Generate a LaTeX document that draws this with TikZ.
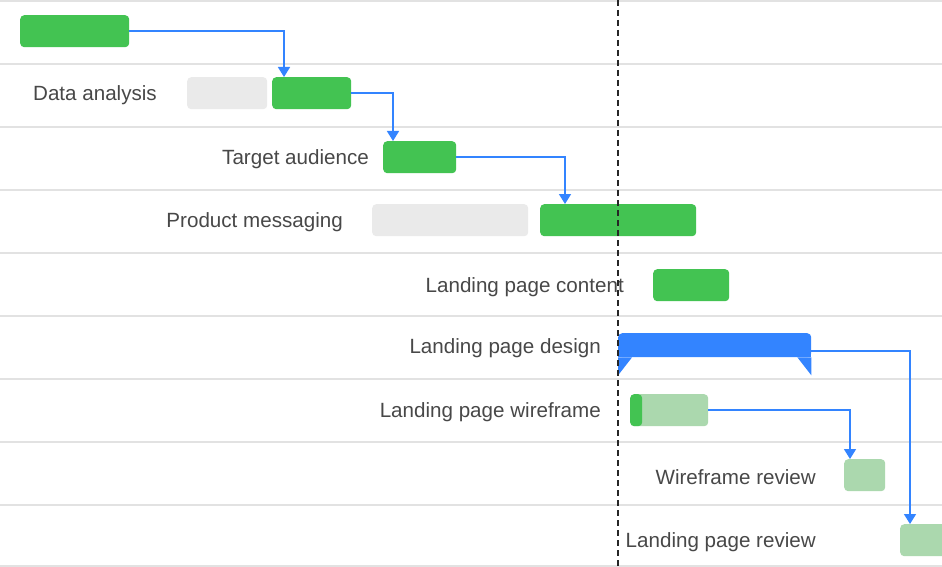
\documentclass[tikz,border=0pt]{standalone}
\usepackage{fontspec}
\setmainfont{Liberation Sans}
\usetikzlibrary{arrows.meta}
\definecolor{barGreen}{RGB}{67,195,82}
\definecolor{barLight}{RGB}{171,216,174}
\definecolor{barGray}{RGB}{234,234,234}
\definecolor{linkBlue}{RGB}{51,132,255}
\definecolor{gridGray}{RGB}{226,226,226}
\definecolor{labelGray}{RGB}{72,72,72}

\begin{document}
\begin{tikzpicture}[x=1pt, y=-1pt,
    bar/.style={rectangle, rounded corners=4pt, inner sep=0, minimum height=32pt, anchor=north west},
    tasklabel/.style={anchor=east, inner sep=0, text=labelGray, font=\fontsize{20.6}{24}\selectfont},
    link/.style={draw=linkBlue, line width=1.5pt, -{Triangle[width=12pt, length=10pt]}},
    gridline/.style={draw=gridGray, line width=1.3pt}]
    \useasboundingbox (0,0) rectangle (942,567);
    \fill[white] (0,0) rectangle (942,567);
    \foreach \y in {1,64,127,190,253,316,379,442,505,566}
        \draw[gridline] (0,\y) -- (942,\y);

    \node[bar, fill=barGreen, minimum width=109pt] (first) at (20,15) {};

    \node[tasklabel] (lblAnalysis) at (157,95) {Data analysis};
    \node[bar, fill=barGray, minimum width=80pt] (analysisBase) at (187,77) {};
    \node[bar, fill=barGreen, minimum width=79pt] (analysis) at (272,77) {};

    \node[tasklabel] (lblAudience) at (369,159) {Target audience};
    \node[bar, fill=barGreen, minimum width=73pt] (audience) at (383,141) {};

    \node[tasklabel] (lblMessaging) at (343,222) {Product messaging};
    \node[bar, fill=barGray, minimum width=156pt] (messagingBase) at (372,204) {};
    \node[bar, fill=barGreen, minimum width=156pt] (messaging) at (540,204) {};

    \node[tasklabel] (lblContent) at (624,287) {Landing page content};
    \node[bar, fill=barGreen, minimum width=76pt] (content) at (653,269) {};

    \node[tasklabel] (lblDesign) at (601,348) {Landing page design};
    \node[bar, fill=linkBlue, minimum width=193pt, minimum height=24pt] (design) at (618,333) {};
    \fill[linkBlue] ([yshift=8pt]design.south west) rectangle (design.south east);
    \fill[linkBlue] (design.south west) -- ([yshift=-18pt]design.south west) -- ([xshift=14pt]design.south west) -- cycle;
    \fill[linkBlue] (design.south east) -- ([yshift=-18pt]design.south east) -- ([xshift=-14pt]design.south east) -- cycle;

    \node[tasklabel] (lblWire) at (601,412) {Landing page wireframe};
    \node[bar, fill=barLight, minimum width=78pt,
        path picture={\fill[barGreen] (path picture bounding box.south west) rectangle ([xshift=12pt]path picture bounding box.north west);}] (wire) at (630,394) {};

    \node[tasklabel] (lblWireReview) at (816,477) {Wireframe review};
    \node[bar, fill=barLight, minimum width=41pt] (wireReview) at (844,459) {};

    \node[tasklabel] (lblPageReview) at (816,542) {Landing page review};
    \node[bar, fill=barLight, minimum width=60pt] (pageReview) at (900,524) {};

    \draw[link] (first.east) -| ([xshift=12pt]analysis.north west);
    \draw[link] (analysis.east) -| ([xshift=10pt]audience.north west);
    \draw[link] (audience.east) -| ([xshift=25pt]messaging.north west);
    \draw[link] ([yshift=-6pt]design.east) -| ([xshift=10pt]pageReview.north west);
    \draw[link] (wire.east) -| ([xshift=6pt]wireReview.north west);

    \coordinate (todayTop) at (618,0);
    \coordinate (todayBottom) at (618,567);
    \draw[black!85, line width=1.6pt, dash pattern=on 6pt off 4pt] (todayTop) -- (todayBottom);
\end{tikzpicture}
\end{document}
